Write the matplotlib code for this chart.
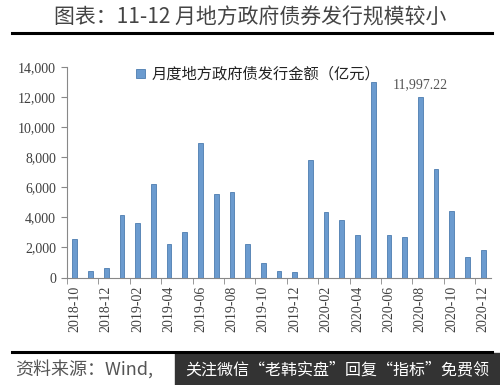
import numpy as np
import matplotlib.pyplot as plt
from matplotlib.lines import Line2D
from matplotlib.patches import Rectangle
from matplotlib.ticker import FuncFormatter

plt.rcParams['font.family'] = ['Noto Sans CJK SC', 'DejaVu Sans']

# monthly local government bond issuance (100 million yuan)
months = ['2018-10', '2018-11', '2018-12',
          '2019-01', '2019-02', '2019-03', '2019-04', '2019-05', '2019-06',
          '2019-07', '2019-08', '2019-09', '2019-10', '2019-11', '2019-12',
          '2020-01', '2020-02', '2020-03', '2020-04', '2020-05', '2020-06',
          '2020-07', '2020-08', '2020-09', '2020-10', '2020-11', '2020-12']
issuance = [2560, 440, 640,
            4160, 3620, 6220, 2240, 3040, 8960,
            5530, 5690, 2200, 960, 440, 360,
            7820, 4380, 3860, 2860, 13010, 2860,
            2720, 11997.22, 7210, 4410, 1370, 1830]
highlight = '2020-08'

title = '图表：11-12 月地方政府债券发行规模较小'
legend_label = '月度地方政府债发行金额（亿元）'
source = '资料来源：Wind,'
watermark = '关注微信“老韩实盘”回复“指标”免费领'

serif = 'Liberation Serif'
grey = '#404040'

fig = plt.figure(figsize=(5, 3.85), dpi=100)
ax = fig.add_axes([0.134, 0.279, 0.848, 0.547])

x = np.arange(len(months))
ax.bar(x, issuance, width=0.3, color='#6b9bcf', edgecolor='#4d7db0', linewidth=0.6,
       label=legend_label)

i = months.index(highlight)
ax.annotate(f'{issuance[i]:,.2f}', (x[i], issuance[i]), xytext=(0, 4),
            textcoords='offset points', ha='center', va='bottom',
            fontfamily=serif, fontsize=10, color='#555555')

ax.set_xlim(-0.5, len(months) - 0.5)
ax.set_ylim(0, 14000)
ax.set_yticks(np.arange(0, 14001, 2000))
ax.yaxis.set_major_formatter(FuncFormatter(lambda v, p: f'{v:,.0f}'))
ax.set_xticks(x[::2])
ax.set_xticklabels(months[::2], rotation=90)
ax.set_xticks(np.arange(-0.5, len(months) - 1, 2), minor=True)
ax.tick_params(axis='x', which='major', length=0, pad=6)
ax.tick_params(axis='x', which='minor', length=4, color='#888888', direction='out')
ax.tick_params(axis='y', length=4, color='#888888', direction='out', pad=4)
for lab in ax.get_xticklabels() + ax.get_yticklabels():
    lab.set_fontfamily(serif)
    lab.set_fontsize(10)
    lab.set_color(grey)

for s in ['top', 'right']:
    ax.spines[s].set_visible(False)
for s in ['left', 'bottom']:
    ax.spines[s].set_color('#888888')
    ax.spines[s].set_linewidth(0.8)

leg = ax.legend(loc='upper left', bbox_to_anchor=(0.13, 1.07), frameon=False,
                handlelength=0.6, handleheight=0.6, handletextpad=0.4,
                prop={'family': ['Noto Sans CJK SC'], 'size': 11, 'weight': 'light'})
for t in leg.get_texts():
    t.set_color('#222222')

# title and rules
fig.text(0.5, 0.955, title, ha='center', va='center', fontsize=15, color='#444444',
         fontweight='light')
fig.add_artist(Line2D([0.024, 0.984], [0.913, 0.913], color='black', linewidth=2.2))
fig.add_artist(Line2D([0.024, 0.984], [0.085, 0.085], color='black', linewidth=2.2))

# footer
fig.text(0.03, 0.04, source, ha='left', va='center', fontsize=13, color='#555555',
         style='italic', fontweight='light')
fig.add_artist(Rectangle((0.35, 0.0), 0.65, 0.083, transform=fig.transFigure,
                         color='#333333'))
fig.text(0.37, 0.04, watermark, ha='left', va='center', fontsize=11.5, color='white')

fig.savefig('out.png', dpi=100)
